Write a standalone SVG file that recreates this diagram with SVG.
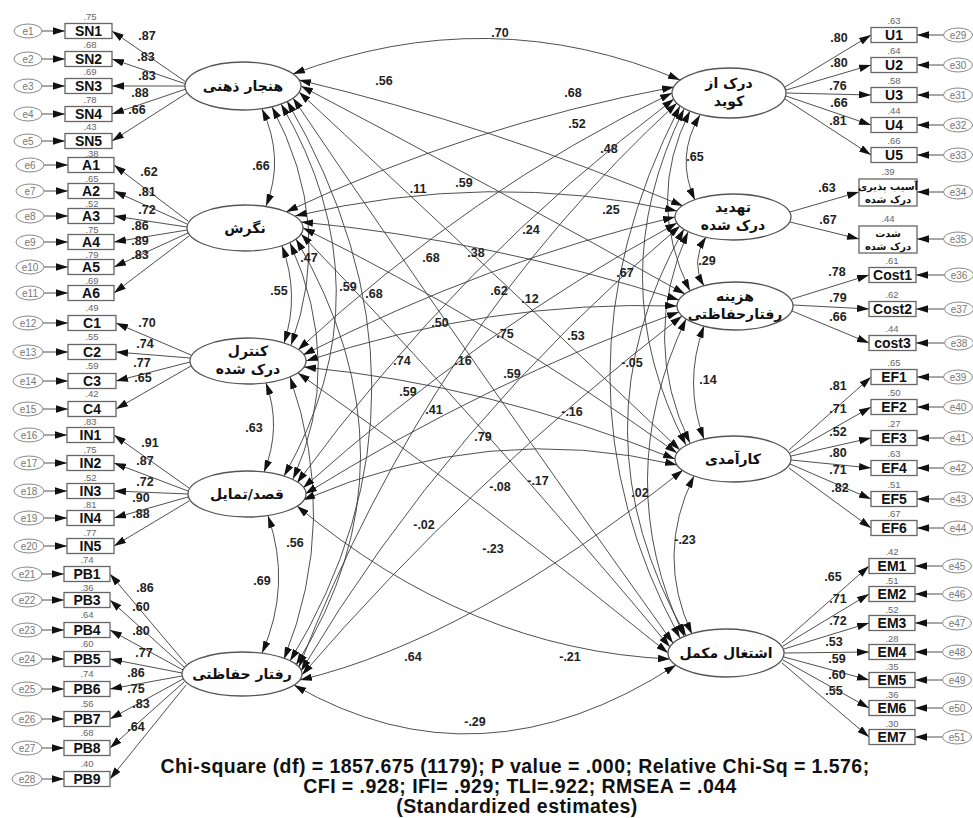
<svg xmlns="http://www.w3.org/2000/svg" width="973" height="818" viewBox="0 0 973 818">
<defs>
<marker id="ah" viewBox="0 0 10 10" refX="10" refY="5" markerWidth="12" markerHeight="7.5" markerUnits="userSpaceOnUse" orient="auto-start-reverse" preserveAspectRatio="none"><path d="M0,0 L10,5 L0,10 z" fill="#111"/></marker>
<style>
.lat{fill:#fff;stroke:#555;stroke-width:1.3}
.box{fill:#fff;stroke:#666;stroke-width:1.3}
.err{fill:#fff;stroke:#888;stroke-width:1}
.ln{fill:none;stroke:#3c3c3c;stroke-width:0.9;marker-end:url(#ah)}
.cov{fill:none;stroke:#3c3c3c;stroke-width:0.9;marker-start:url(#ah);marker-end:url(#ah)}
.fa{font-family:"DejaVu Sans","Noto Sans",sans-serif;font-weight:bold;font-size:14px;fill:#111;text-anchor:middle}
.fs{font-family:"DejaVu Sans","Noto Sans",sans-serif;font-weight:bold;font-size:10px;fill:#111;text-anchor:middle}
.bx{font-family:"Liberation Sans",Arial,sans-serif;font-weight:bold;font-size:14px;fill:#111;text-anchor:middle}
.et{font-family:"Liberation Sans",Arial,sans-serif;font-size:10px;fill:#777;text-anchor:middle}
.sq{font-family:"Liberation Sans",Arial,sans-serif;font-size:9.5px;fill:#666;text-anchor:middle}
.ld{font-family:"Liberation Sans",Arial,sans-serif;font-weight:bold;font-size:12.5px;fill:#222;text-anchor:middle}
.ft{font-family:"Liberation Sans",Arial,sans-serif;font-weight:bold;font-size:19.5px;letter-spacing:0.45px;fill:#111;text-anchor:middle}
</style>
</defs>
<rect width="973" height="818" fill="#fff"/>

<g id="connectors">
<path class="cov" d="M262,109 Q285,158 266,206"/>
<path class="cov" d="M282,246 Q300,295 284,343"/>
<path class="cov" d="M266,383 Q282,427 264,472"/>
<path class="cov" d="M268,516 Q292,585 262,653"/>
<path class="cov" d="M272,107 Q335,225 291,345"/>
<path class="cov" d="M290,243 Q345,365 293,479"/>
<path class="cov" d="M290,377 Q340,520 284,659"/>
<path class="cov" d="M281,104 Q390,290 284,476"/>
<path class="cov" d="M287,101 Q455,390 290,661"/>
<path class="cov" d="M296,239 Q425,460 296,665"/>
<path class="cov" d="M700,115 Q675,157 695,200"/>
<path class="cov" d="M706,237 Q690,262 704,286"/>
<path class="cov" d="M704,326 Q683,383 704,439"/>
<path class="cov" d="M694,476 Q655,555 692,634"/>
<path class="cov" d="M690,111 Q645,200 690,291"/>
<path class="cov" d="M684,109 Q600,280 686,445"/>
<path class="cov" d="M680,106 Q540,380 680,638"/>
<path class="cov" d="M688,232 Q640,340 690,443"/>
<path class="cov" d="M684,229 Q570,430 686,636"/>
<path class="cov" d="M686,319 Q610,480 684,636"/>
<path class="cov" d="M293,74 Q490,0 680,80"/>
<path class="cov" d="M299,80 Q490,125 683,206"/>
<path class="cov" d="M301,86 Q490,185 685,294"/>
<path class="cov" d="M299,92 Q480,260 680,450"/>
<path class="cov" d="M293,98 Q470,360 673,643"/>
<path class="cov" d="M286,212 Q470,125 674,87"/>
<path class="cov" d="M295,216 Q490,170 677,211"/>
<path class="cov" d="M301,222 Q490,240 679,300"/>
<path class="cov" d="M303,228 Q490,320 677,453"/>
<path class="cov" d="M301,234 Q480,420 670,647"/>
<path class="cov" d="M298,350 Q470,190 672,93"/>
<path class="cov" d="M303,355 Q490,260 675,217"/>
<path class="cov" d="M306,361 Q490,300 677,306"/>
<path class="cov" d="M304,367 Q490,385 675,459"/>
<path class="cov" d="M298,373 Q480,500 668,653"/>
<path class="cov" d="M297,483 Q460,260 674,99"/>
<path class="cov" d="M303,488 Q480,330 677,223"/>
<path class="cov" d="M305,494 Q490,380 679,312"/>
<path class="cov" d="M303,500 Q490,420 677,465"/>
<path class="cov" d="M297,506 Q470,650 670,659"/>
<path class="cov" d="M299,667 Q430,330 677,103"/>
<path class="cov" d="M301,671 Q450,420 680,226"/>
<path class="cov" d="M302,675 Q470,480 682,316"/>
<path class="cov" d="M300,680 Q470,640 683,470"/>
<path class="cov" d="M294,685 Q480,792 676,665"/>

<path class="ln" d="M186,82 L112,31"/><path class="ln" d="M186,84 L112,59"/><path class="ln" d="M185,86 L112,86"/><path class="ln" d="M186,89 L112,114"/><path class="ln" d="M187,93 L112,141"/>
<path class="ln" d="M188,221 L114,165"/><path class="ln" d="M187,224 L114,191"/><path class="ln" d="M187,227 L114,216"/><path class="ln" d="M187,230 L114,242"/><path class="ln" d="M188,233 L114,267"/><path class="ln" d="M189,236 L114,293"/>
<path class="ln" d="M191,355 L116,323"/><path class="ln" d="M190,358 L116,352"/><path class="ln" d="M190,362 L116,381"/><path class="ln" d="M191,366 L116,409"/>
<path class="ln" d="M189,488 L114,435"/><path class="ln" d="M188,491 L114,463"/><path class="ln" d="M188,494 L114,491"/><path class="ln" d="M188,497 L114,518"/><path class="ln" d="M189,501 L114,546"/>
<path class="ln" d="M186,664 L110,574"/><path class="ln" d="M184,667 L110,600"/><path class="ln" d="M183,670 L110,630"/><path class="ln" d="M182,673 L110,659"/><path class="ln" d="M182,676 L110,689"/><path class="ln" d="M183,679 L110,719"/><path class="ln" d="M184,682 L110,748"/><path class="ln" d="M186,685 L110,779"/>
<path class="ln" d="M42,31 L65,31"/><path class="ln" d="M42,59 L65,59"/><path class="ln" d="M42,86 L65,86"/><path class="ln" d="M42,114 L65,114"/><path class="ln" d="M42,141 L65,141"/>
<path class="ln" d="M44,165 L68,165"/><path class="ln" d="M44,191 L68,191"/><path class="ln" d="M44,216 L68,216"/><path class="ln" d="M44,242 L68,242"/><path class="ln" d="M44,267 L68,267"/><path class="ln" d="M44,293 L68,293"/>
<path class="ln" d="M43,323 L68,323"/><path class="ln" d="M43,352 L68,352"/><path class="ln" d="M43,381 L68,381"/><path class="ln" d="M43,409 L68,409"/>
<path class="ln" d="M44,435 L67,435"/><path class="ln" d="M44,463 L67,463"/><path class="ln" d="M44,491 L67,491"/><path class="ln" d="M44,518 L67,518"/><path class="ln" d="M44,546 L67,546"/>
<path class="ln" d="M42,574 L64,574"/><path class="ln" d="M42,600 L64,600"/><path class="ln" d="M42,630 L64,630"/><path class="ln" d="M42,659 L64,659"/><path class="ln" d="M42,689 L64,689"/><path class="ln" d="M42,719 L64,719"/><path class="ln" d="M42,748 L64,748"/><path class="ln" d="M42,779 L64,779"/>
<path class="ln" d="M785,87 L871,35"/><path class="ln" d="M786,90 L871,65"/><path class="ln" d="M786,93 L871,95"/><path class="ln" d="M786,96 L871,125"/><path class="ln" d="M785,99 L871,155"/>
<path class="ln" d="M790,212 L859,192"/><path class="ln" d="M790,222 L859,239"/>
<path class="ln" d="M792,299 L869,275"/><path class="ln" d="M793,305 L869,309"/><path class="ln" d="M792,311 L869,343"/>
<path class="ln" d="M789,450 L871,377"/><path class="ln" d="M790,453 L871,407"/><path class="ln" d="M791,456 L871,438"/><path class="ln" d="M791,460 L871,468"/><path class="ln" d="M790,464 L871,499"/><path class="ln" d="M789,468 L871,528"/>
<path class="ln" d="M782,643 L869,566"/><path class="ln" d="M783,646 L869,594"/><path class="ln" d="M784,649 L869,623"/><path class="ln" d="M784,653 L869,652"/><path class="ln" d="M784,657 L869,680"/><path class="ln" d="M783,660 L869,708"/><path class="ln" d="M782,663 L869,737"/>
<path class="ln" d="M943,35 L917,35"/><path class="ln" d="M943,65 L917,65"/><path class="ln" d="M943,95 L917,95"/><path class="ln" d="M943,125 L917,125"/><path class="ln" d="M943,155 L917,155"/>
<path class="ln" d="M943,192 L917,192"/><path class="ln" d="M943,239 L917,239"/>
<path class="ln" d="M944,275 L916,275"/><path class="ln" d="M944,309 L916,309"/><path class="ln" d="M944,343 L916,343"/>
<path class="ln" d="M943,377 L917,377"/><path class="ln" d="M943,407 L917,407"/><path class="ln" d="M943,438 L917,438"/><path class="ln" d="M943,468 L917,468"/><path class="ln" d="M943,499 L917,499"/><path class="ln" d="M943,528 L917,528"/>
<path class="ln" d="M942,566 L915,566"/><path class="ln" d="M942,594 L915,594"/><path class="ln" d="M942,623 L915,623"/><path class="ln" d="M942,652 L915,652"/><path class="ln" d="M942,680 L915,680"/><path class="ln" d="M942,708 L915,708"/><path class="ln" d="M942,737 L915,737"/>
</g>

<g id="connector-labels">
<text class="ld" x="500" y="37">.70</text>
<text class="ld" x="384" y="85">.56</text>
<text class="ld" x="573" y="97">.68</text>
<text class="ld" x="577" y="128">.52</text>
<text class="ld" x="609" y="153">.48</text>
<text class="ld" x="261" y="170">.66</text>
<text class="ld" x="695" y="161">.65</text>
<text class="ld" x="418" y="193">.11</text>
<text class="ld" x="464" y="187">.59</text>
<text class="ld" x="611" y="214">.25</text>
<text class="ld" x="531" y="234">.24</text>
<text class="ld" x="476" y="257">.38</text>
<text class="ld" x="431" y="262">.68</text>
<text class="ld" x="309" y="262">.47</text>
<text class="ld" x="625" y="277">.67</text>
<text class="ld" x="707" y="265">.29</text>
<text class="ld" x="279" y="295">.55</text>
<text class="ld" x="348" y="291">.59</text>
<text class="ld" x="374" y="298">.68</text>
<text class="ld" x="499" y="295">.62</text>
<text class="ld" x="530" y="303">.12</text>
<text class="ld" x="440" y="327">.50</text>
<text class="ld" x="505" y="338">.75</text>
<text class="ld" x="576" y="340">.53</text>
<text class="ld" x="632" y="367">-.05</text>
<text class="ld" x="402" y="365">.74</text>
<text class="ld" x="463" y="365">.16</text>
<text class="ld" x="512" y="378">.59</text>
<text class="ld" x="408" y="396">.59</text>
<text class="ld" x="434" y="414">.41</text>
<text class="ld" x="572" y="416">-.16</text>
<text class="ld" x="708" y="384">.14</text>
<text class="ld" x="254" y="432">.63</text>
<text class="ld" x="483" y="441">.79</text>
<text class="ld" x="500" y="491">-.08</text>
<text class="ld" x="538" y="485">-.17</text>
<text class="ld" x="640" y="497">.02</text>
<text class="ld" x="424" y="529">-.02</text>
<text class="ld" x="295" y="547">.56</text>
<text class="ld" x="493" y="553">-.23</text>
<text class="ld" x="685" y="544">-.23</text>
<text class="ld" x="262" y="585">.69</text>
<text class="ld" x="413" y="661">.64</text>
<text class="ld" x="570" y="661">-.21</text>
<text class="ld" x="475" y="726">-.29</text>
<text class="ld" x="147" y="40">.87</text><text class="ld" x="146" y="61">.83</text><text class="ld" x="147" y="80">.83</text><text class="ld" x="140" y="97">.88</text><text class="ld" x="137" y="114">.66</text>
<text class="ld" x="149" y="176">.62</text><text class="ld" x="147" y="196">.81</text><text class="ld" x="147" y="214">.72</text><text class="ld" x="140" y="230">.86</text><text class="ld" x="140" y="245">.89</text><text class="ld" x="140" y="259">.83</text>
<text class="ld" x="147" y="327">.70</text><text class="ld" x="145" y="348">.74</text><text class="ld" x="142" y="367">.77</text><text class="ld" x="143" y="382">.65</text>
<text class="ld" x="150" y="447">.91</text><text class="ld" x="145" y="465">.87</text><text class="ld" x="145" y="486">.72</text><text class="ld" x="141" y="502">.90</text><text class="ld" x="141" y="518">.88</text>
<text class="ld" x="145" y="592">.86</text><text class="ld" x="141" y="611">.60</text><text class="ld" x="141" y="635">.80</text><text class="ld" x="144" y="657">.77</text><text class="ld" x="136" y="677">.86</text><text class="ld" x="136" y="693">.75</text><text class="ld" x="141" y="708">.83</text><text class="ld" x="136" y="731">.64</text>
<text class="ld" x="839" y="42">.80</text><text class="ld" x="839" y="67">.80</text><text class="ld" x="838" y="90">.76</text><text class="ld" x="839" y="107">.66</text><text class="ld" x="838" y="125">.81</text>
<text class="ld" x="827" y="192">.63</text><text class="ld" x="828" y="224">.67</text>
<text class="ld" x="837" y="276">.78</text><text class="ld" x="838" y="302">.79</text><text class="ld" x="838" y="321">.66</text>
<text class="ld" x="838" y="390">.81</text><text class="ld" x="838" y="413">.71</text><text class="ld" x="838" y="436">.52</text><text class="ld" x="838" y="457">.80</text><text class="ld" x="838" y="474">.71</text><text class="ld" x="840" y="492">.82</text>
<text class="ld" x="833" y="581">.65</text><text class="ld" x="838" y="603">.71</text><text class="ld" x="838" y="625">.72</text><text class="ld" x="834" y="646">.53</text><text class="ld" x="837" y="663">.59</text><text class="ld" x="837" y="679">.60</text><text class="ld" x="834" y="695">.55</text>
</g>

<g id="node-SN"><ellipse class="lat" cx="243" cy="86" rx="58" ry="24"/><text class="fa" x="243" y="91">هنجار ذهنی</text></g>
<g id="node-A"><ellipse class="lat" cx="245" cy="228" rx="58" ry="23"/><text class="fa" x="245" y="233">نگرش</text></g>
<g id="node-C"><ellipse class="lat" cx="248" cy="361" rx="58" ry="23"/><text class="fa" x="248" y="356">کنترل</text><text class="fa" x="248" y="374">درک شده</text></g>
<g id="node-IN"><ellipse class="lat" cx="247" cy="494" rx="59" ry="23"/><text class="fa" x="247" y="499">قصد/تمایل</text></g>
<g id="node-PB"><ellipse class="lat" cx="242" cy="674" rx="60" ry="22"/><text class="fa" x="242" y="679">رفتار حفاظتی</text></g>
<g id="node-U"><ellipse class="lat" cx="729" cy="93" rx="57" ry="25"/><text class="fa" x="729" y="88">درک از</text><text class="fa" x="729" y="106">کوید</text></g>
<g id="node-T"><ellipse class="lat" cx="733" cy="217" rx="58" ry="23"/><text class="fa" x="733" y="212">تهدید</text><text class="fa" x="733" y="230">درک شده</text></g>
<g id="node-Cost"><ellipse class="lat" cx="735" cy="306" rx="58" ry="24"/><text class="fa" x="735" y="301">هزینه</text><text class="fa" x="735" y="319">رفتارحفاظتی</text></g>
<g id="node-EF"><ellipse class="lat" cx="733" cy="459" rx="58" ry="23"/><text class="fa" x="733" y="464">کارآمدی</text></g>
<g id="node-EM"><ellipse class="lat" cx="726" cy="653" rx="58" ry="24"/><text class="fa" x="726" y="658">اشتغال مکمل</text></g>

<g id="node-SN1"><rect class="box" x="65" y="23.5" width="47" height="15"/><text class="bx" x="88.5" y="36">SN1</text><text class="sq" x="90" y="19.5">.75</text><ellipse class="err" cx="28" cy="31" rx="14" ry="7"/><text class="et" x="28" y="34.5">e1</text></g>
<g id="node-SN2"><rect class="box" x="65" y="51.5" width="47" height="15"/><text class="bx" x="88.5" y="64">SN2</text><text class="sq" x="90" y="47.5">.68</text><ellipse class="err" cx="28" cy="59" rx="14" ry="7"/><text class="et" x="28" y="62.5">e2</text></g>
<g id="node-SN3"><rect class="box" x="65" y="78.5" width="47" height="15"/><text class="bx" x="88.5" y="91">SN3</text><text class="sq" x="90" y="75">.69</text><ellipse class="err" cx="28" cy="86" rx="14" ry="7"/><text class="et" x="28" y="89.5">e3</text></g>
<g id="node-SN4"><rect class="box" x="65" y="106.5" width="47" height="15"/><text class="bx" x="88.5" y="119">SN4</text><text class="sq" x="90" y="103">.78</text><ellipse class="err" cx="28" cy="114" rx="14" ry="7"/><text class="et" x="28" y="117.5">e4</text></g>
<g id="node-SN5"><rect class="box" x="65" y="133.5" width="47" height="15"/><text class="bx" x="88.5" y="146">SN5</text><text class="sq" x="90" y="130">.43</text><ellipse class="err" cx="28" cy="141" rx="14" ry="7"/><text class="et" x="28" y="144.5">e5</text></g>

<g id="node-A1"><rect class="box" x="68" y="157.5" width="46" height="15"/><text class="bx" x="91" y="170">A1</text><text class="sq" x="92" y="157">.38</text><ellipse class="err" cx="30" cy="165" rx="14" ry="7"/><text class="et" x="30" y="168.5">e6</text></g>
<g id="node-A2"><rect class="box" x="68" y="183.5" width="46" height="15"/><text class="bx" x="91" y="196">A2</text><text class="sq" x="92" y="182">.65</text><ellipse class="err" cx="30" cy="191" rx="14" ry="7"/><text class="et" x="30" y="194.5">e7</text></g>
<g id="node-A3"><rect class="box" x="68" y="208.5" width="46" height="15"/><text class="bx" x="91" y="221">A3</text><text class="sq" x="92" y="207">.52</text><ellipse class="err" cx="30" cy="216" rx="14" ry="7"/><text class="et" x="30" y="219.5">e8</text></g>
<g id="node-A4"><rect class="box" x="68" y="234.5" width="46" height="15"/><text class="bx" x="91" y="247">A4</text><text class="sq" x="92" y="233">.75</text><ellipse class="err" cx="30" cy="242" rx="14" ry="7"/><text class="et" x="30" y="245.5">e9</text></g>
<g id="node-A5"><rect class="box" x="68" y="259.5" width="46" height="15"/><text class="bx" x="91" y="272">A5</text><text class="sq" x="92" y="258">.79</text><ellipse class="err" cx="30" cy="267" rx="14" ry="7"/><text class="et" x="30" y="270.5">e10</text></g>
<g id="node-A6"><rect class="box" x="68" y="285.5" width="46" height="15"/><text class="bx" x="91" y="298">A6</text><text class="sq" x="92" y="284">.69</text><ellipse class="err" cx="30" cy="293" rx="14" ry="7"/><text class="et" x="30" y="296.5">e11</text></g>

<g id="node-C1"><rect class="box" x="68" y="315.5" width="48" height="15"/><text class="bx" x="92" y="328">C1</text><text class="sq" x="92" y="311">.49</text><ellipse class="err" cx="28" cy="323" rx="15" ry="7"/><text class="et" x="28" y="326.5">e12</text></g>
<g id="node-C2"><rect class="box" x="68" y="344.5" width="48" height="15"/><text class="bx" x="92" y="357">C2</text><text class="sq" x="92" y="340">.55</text><ellipse class="err" cx="28" cy="352" rx="15" ry="7"/><text class="et" x="28" y="355.5">e13</text></g>
<g id="node-C3"><rect class="box" x="68" y="373.5" width="48" height="15"/><text class="bx" x="92" y="386">C3</text><text class="sq" x="92" y="369">.59</text><ellipse class="err" cx="28" cy="381" rx="15" ry="7"/><text class="et" x="28" y="384.5">e14</text></g>
<g id="node-C4"><rect class="box" x="68" y="401.5" width="48" height="15"/><text class="bx" x="92" y="414">C4</text><text class="sq" x="92" y="397">.42</text><ellipse class="err" cx="28" cy="409" rx="15" ry="7"/><text class="et" x="28" y="412.5">e15</text></g>

<g id="node-IN1"><rect class="box" x="67" y="427.5" width="47" height="15"/><text class="bx" x="90.5" y="440">IN1</text><text class="sq" x="90" y="425">.83</text><ellipse class="err" cx="29" cy="435" rx="15" ry="7"/><text class="et" x="29" y="438.5">e16</text></g>
<g id="node-IN2"><rect class="box" x="67" y="455.5" width="47" height="15"/><text class="bx" x="90.5" y="468">IN2</text><text class="sq" x="90" y="453">.75</text><ellipse class="err" cx="29" cy="463" rx="15" ry="7"/><text class="et" x="29" y="466.5">e17</text></g>
<g id="node-IN3"><rect class="box" x="67" y="483.5" width="47" height="15"/><text class="bx" x="90.5" y="496">IN3</text><text class="sq" x="90" y="481">.52</text><ellipse class="err" cx="29" cy="491" rx="15" ry="7"/><text class="et" x="29" y="494.5">e18</text></g>
<g id="node-IN4"><rect class="box" x="67" y="510.5" width="47" height="15"/><text class="bx" x="90.5" y="523">IN4</text><text class="sq" x="90" y="508">.81</text><ellipse class="err" cx="29" cy="518" rx="15" ry="7"/><text class="et" x="29" y="521.5">e19</text></g>
<g id="node-IN5"><rect class="box" x="67" y="538.5" width="47" height="15"/><text class="bx" x="90.5" y="551">IN5</text><text class="sq" x="90" y="536">.77</text><ellipse class="err" cx="29" cy="546" rx="15" ry="7"/><text class="et" x="29" y="549.5">e20</text></g>

<g id="node-PB1"><rect class="box" x="64" y="566.5" width="46" height="15"/><text class="bx" x="87" y="579">PB1</text><text class="sq" x="87" y="563">.74</text><ellipse class="err" cx="27" cy="574" rx="15" ry="7"/><text class="et" x="27" y="577.5">e21</text></g>
<g id="node-PB3"><rect class="box" x="64" y="592.5" width="46" height="15"/><text class="bx" x="87" y="605">PB3</text><text class="sq" x="87" y="591">.36</text><ellipse class="err" cx="27" cy="600" rx="15" ry="7"/><text class="et" x="27" y="603.5">e22</text></g>
<g id="node-PB4"><rect class="box" x="64" y="622.5" width="46" height="15"/><text class="bx" x="87" y="635">PB4</text><text class="sq" x="87" y="618">.64</text><ellipse class="err" cx="27" cy="630" rx="15" ry="7"/><text class="et" x="27" y="633.5">e23</text></g>
<g id="node-PB5"><rect class="box" x="64" y="651.5" width="46" height="15"/><text class="bx" x="87" y="664">PB5</text><text class="sq" x="87" y="647">.60</text><ellipse class="err" cx="27" cy="659" rx="15" ry="7"/><text class="et" x="27" y="662.5">e24</text></g>
<g id="node-PB6"><rect class="box" x="64" y="681.5" width="46" height="15"/><text class="bx" x="87" y="694">PB6</text><text class="sq" x="87" y="677">.74</text><ellipse class="err" cx="27" cy="689" rx="15" ry="7"/><text class="et" x="27" y="692.5">e25</text></g>
<g id="node-PB7"><rect class="box" x="64" y="711.5" width="46" height="15"/><text class="bx" x="87" y="724">PB7</text><text class="sq" x="87" y="707">.56</text><ellipse class="err" cx="27" cy="719" rx="15" ry="7"/><text class="et" x="27" y="722.5">e26</text></g>
<g id="node-PB8"><rect class="box" x="64" y="740.5" width="46" height="15"/><text class="bx" x="87" y="753">PB8</text><text class="sq" x="87" y="736">.68</text><ellipse class="err" cx="27" cy="748" rx="15" ry="7"/><text class="et" x="27" y="751.5">e27</text></g>
<g id="node-PB9"><rect class="box" x="64" y="771.5" width="46" height="15"/><text class="bx" x="87" y="784">PB9</text><text class="sq" x="87" y="767">.40</text><ellipse class="err" cx="27" cy="779" rx="15" ry="7"/><text class="et" x="27" y="782.5">e28</text></g>

<g id="node-U1"><rect class="box" x="871" y="27.5" width="46" height="15"/><text class="bx" x="894" y="40">U1</text><text class="sq" x="894" y="24">.63</text><ellipse class="err" cx="958" cy="35" rx="14.5" ry="7"/><text class="et" x="958" y="38.5">e29</text></g>
<g id="node-U2"><rect class="box" x="871" y="57.5" width="46" height="15"/><text class="bx" x="894" y="70">U2</text><text class="sq" x="894" y="54">.64</text><ellipse class="err" cx="958" cy="65" rx="14.5" ry="7"/><text class="et" x="958" y="68.5">e30</text></g>
<g id="node-U3"><rect class="box" x="871" y="87.5" width="46" height="15"/><text class="bx" x="894" y="100">U3</text><text class="sq" x="894" y="84">.58</text><ellipse class="err" cx="958" cy="95" rx="14.5" ry="7"/><text class="et" x="958" y="98.5">e31</text></g>
<g id="node-U4"><rect class="box" x="871" y="117.5" width="46" height="15"/><text class="bx" x="894" y="130">U4</text><text class="sq" x="894" y="114">.44</text><ellipse class="err" cx="958" cy="125" rx="14.5" ry="7"/><text class="et" x="958" y="128.5">e32</text></g>
<g id="node-U5"><rect class="box" x="871" y="147.5" width="46" height="15"/><text class="bx" x="894" y="160">U5</text><text class="sq" x="894" y="144">.66</text><ellipse class="err" cx="958" cy="155" rx="14.5" ry="7"/><text class="et" x="958" y="158.5">e33</text></g>

<g id="node-T1"><rect class="box" x="859" y="179" width="58" height="27"/><text class="fs" x="888" y="190">آسیب پذیری</text><text class="fs" x="888" y="203">درک شده</text><text class="sq" x="888" y="175">.39</text><ellipse class="err" cx="958" cy="192" rx="14.5" ry="7"/><text class="et" x="958" y="195.5">e34</text></g>
<g id="node-T2"><rect class="box" x="859" y="226" width="58" height="27"/><text class="fs" x="888" y="237">شدت</text><text class="fs" x="888" y="250">درک شده</text><text class="sq" x="888" y="222">.44</text><ellipse class="err" cx="958" cy="239" rx="14.5" ry="7"/><text class="et" x="958" y="242.5">e35</text></g>

<g id="node-Cost1"><rect class="box" x="869" y="267.5" width="47" height="15"/><text class="bx" x="892.5" y="280">Cost1</text><text class="sq" x="892" y="264">.61</text><ellipse class="err" cx="959" cy="275" rx="14.5" ry="7"/><text class="et" x="959" y="278.5">e36</text></g>
<g id="node-Cost2"><rect class="box" x="869" y="301.5" width="47" height="15"/><text class="bx" x="892.5" y="314">Cost2</text><text class="sq" x="892" y="298">.62</text><ellipse class="err" cx="959" cy="309" rx="14.5" ry="7"/><text class="et" x="959" y="312.5">e37</text></g>
<g id="node-cost3"><rect class="box" x="869" y="335.5" width="47" height="15"/><text class="bx" x="892.5" y="348">cost3</text><text class="sq" x="892" y="332">.44</text><ellipse class="err" cx="959" cy="343" rx="14.5" ry="7"/><text class="et" x="959" y="346.5">e38</text></g>

<g id="node-EF1"><rect class="box" x="871" y="369.5" width="46" height="15"/><text class="bx" x="894" y="382">EF1</text><text class="sq" x="894" y="366">.65</text><ellipse class="err" cx="958" cy="377" rx="14.5" ry="7"/><text class="et" x="958" y="380.5">e39</text></g>
<g id="node-EF2"><rect class="box" x="871" y="399.5" width="46" height="15"/><text class="bx" x="894" y="412">EF2</text><text class="sq" x="894" y="396">.50</text><ellipse class="err" cx="958" cy="407" rx="14.5" ry="7"/><text class="et" x="958" y="410.5">e40</text></g>
<g id="node-EF3"><rect class="box" x="871" y="430.5" width="46" height="15"/><text class="bx" x="894" y="443">EF3</text><text class="sq" x="894" y="427">.27</text><ellipse class="err" cx="958" cy="438" rx="14.5" ry="7"/><text class="et" x="958" y="441.5">e41</text></g>
<g id="node-EF4"><rect class="box" x="871" y="460.5" width="46" height="15"/><text class="bx" x="894" y="473">EF4</text><text class="sq" x="894" y="457">.63</text><ellipse class="err" cx="958" cy="468" rx="14.5" ry="7"/><text class="et" x="958" y="471.5">e42</text></g>
<g id="node-EF5"><rect class="box" x="871" y="491.5" width="46" height="15"/><text class="bx" x="894" y="504">EF5</text><text class="sq" x="894" y="488">.51</text><ellipse class="err" cx="958" cy="499" rx="14.5" ry="7"/><text class="et" x="958" y="502.5">e43</text></g>
<g id="node-EF6"><rect class="box" x="871" y="520.5" width="46" height="15"/><text class="bx" x="894" y="533">EF6</text><text class="sq" x="894" y="517">.67</text><ellipse class="err" cx="958" cy="528" rx="14.5" ry="7"/><text class="et" x="958" y="531.5">e44</text></g>

<g id="node-EM1"><rect class="box" x="869" y="558.5" width="46" height="15"/><text class="bx" x="892" y="571">EM1</text><text class="sq" x="892" y="555">.42</text><ellipse class="err" cx="957" cy="566" rx="14.5" ry="7"/><text class="et" x="957" y="569.5">e45</text></g>
<g id="node-EM2"><rect class="box" x="869" y="586.5" width="46" height="15"/><text class="bx" x="892" y="599">EM2</text><text class="sq" x="892" y="583.5">.51</text><ellipse class="err" cx="957" cy="594" rx="14.5" ry="7"/><text class="et" x="957" y="597.5">e46</text></g>
<g id="node-EM3"><rect class="box" x="869" y="615.5" width="46" height="15"/><text class="bx" x="892" y="628">EM3</text><text class="sq" x="892" y="612.5">.52</text><ellipse class="err" cx="957" cy="623" rx="14.5" ry="7"/><text class="et" x="957" y="626.5">e47</text></g>
<g id="node-EM4"><rect class="box" x="869" y="644.5" width="46" height="15"/><text class="bx" x="892" y="657">EM4</text><text class="sq" x="892" y="641.5">.28</text><ellipse class="err" cx="957" cy="652" rx="14.5" ry="7"/><text class="et" x="957" y="655.5">e48</text></g>
<g id="node-EM5"><rect class="box" x="869" y="672.5" width="46" height="15"/><text class="bx" x="892" y="685">EM5</text><text class="sq" x="892" y="669.5">.35</text><ellipse class="err" cx="957" cy="680" rx="14.5" ry="7"/><text class="et" x="957" y="683.5">e49</text></g>
<g id="node-EM6"><rect class="box" x="869" y="700.5" width="46" height="15"/><text class="bx" x="892" y="713">EM6</text><text class="sq" x="892" y="697.5">.36</text><ellipse class="err" cx="957" cy="708" rx="14.5" ry="7"/><text class="et" x="957" y="711.5">e50</text></g>
<g id="node-EM7"><rect class="box" x="869" y="729.5" width="46" height="15"/><text class="bx" x="892" y="742">EM7</text><text class="sq" x="892" y="726.5">.30</text><ellipse class="err" cx="957" cy="737" rx="14.5" ry="7"/><text class="et" x="957" y="740.5">e51</text></g>

<g id="fit">
<text class="ft" x="515" y="773">Chi-square (df) = 1857.675 (1179); P value = .000; Relative Chi-Sq = 1.576;</text>
<text class="ft" x="520" y="793">CFI = .928; IFI= .929; TLI=.922; RMSEA = .044</text>
<text class="ft" x="517" y="813">(Standardized estimates)</text>
</g>
</svg>
